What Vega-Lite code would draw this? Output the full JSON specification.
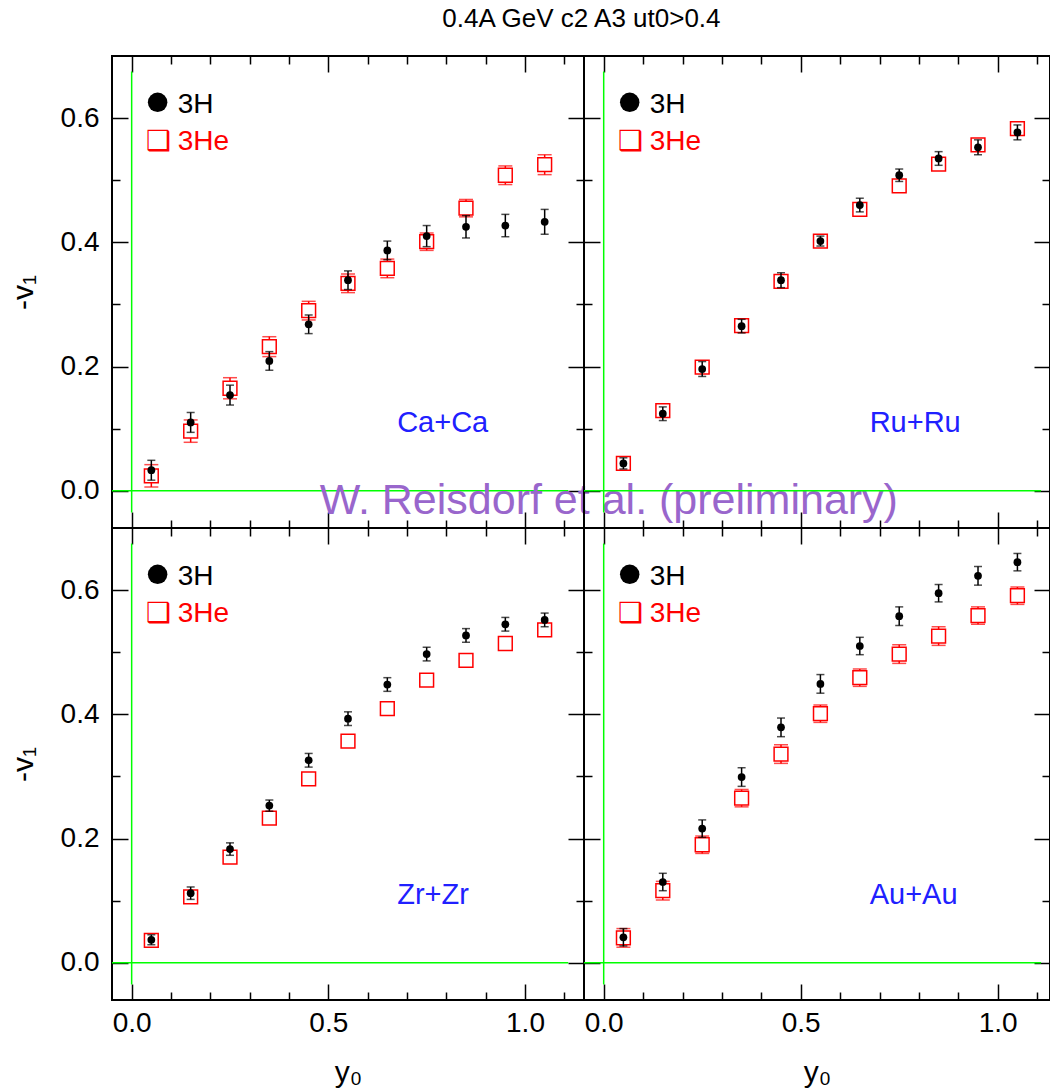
{
  "$schema": "https://vega.github.io/schema/vega-lite/v6.json",
  "padding": {"left": 7, "top": 6, "right": 0, "bottom": 0},
  "bounds": "flush",
  "spacing": 0,
  "columns": 2,
  "title": {"text": "0.4A GeV c2 A3 ut0>0.4", "fontSize": 26, "fontWeight": "normal", "font": "Liberation Sans", "anchor": "middle", "dx": 52, "offset": 22, "color": "black"},
  "data": {"values": [
    {"sys":"Ca+Ca","p":"3H","y0":0.05,"v1":0.033,"e":0.016},
    {"sys":"Ca+Ca","p":"3H","y0":0.15,"v1":0.110,"e":0.016},
    {"sys":"Ca+Ca","p":"3H","y0":0.25,"v1":0.154,"e":0.016},
    {"sys":"Ca+Ca","p":"3H","y0":0.35,"v1":0.209,"e":0.015},
    {"sys":"Ca+Ca","p":"3H","y0":0.45,"v1":0.268,"e":0.015},
    {"sys":"Ca+Ca","p":"3H","y0":0.55,"v1":0.339,"e":0.015},
    {"sys":"Ca+Ca","p":"3H","y0":0.65,"v1":0.387,"e":0.015},
    {"sys":"Ca+Ca","p":"3H","y0":0.75,"v1":0.410,"e":0.017},
    {"sys":"Ca+Ca","p":"3H","y0":0.85,"v1":0.425,"e":0.018},
    {"sys":"Ca+Ca","p":"3H","y0":0.95,"v1":0.427,"e":0.018},
    {"sys":"Ca+Ca","p":"3H","y0":1.05,"v1":0.433,"e":0.020},
    {"sys":"Ca+Ca","p":"3He","y0":0.05,"v1":0.024,"e":0.018},
    {"sys":"Ca+Ca","p":"3He","y0":0.15,"v1":0.096,"e":0.018},
    {"sys":"Ca+Ca","p":"3He","y0":0.25,"v1":0.165,"e":0.017},
    {"sys":"Ca+Ca","p":"3He","y0":0.35,"v1":0.232,"e":0.016},
    {"sys":"Ca+Ca","p":"3He","y0":0.45,"v1":0.290,"e":0.015},
    {"sys":"Ca+Ca","p":"3He","y0":0.55,"v1":0.334,"e":0.015},
    {"sys":"Ca+Ca","p":"3He","y0":0.65,"v1":0.358,"e":0.015},
    {"sys":"Ca+Ca","p":"3He","y0":0.75,"v1":0.401,"e":0.014},
    {"sys":"Ca+Ca","p":"3He","y0":0.85,"v1":0.455,"e":0.014},
    {"sys":"Ca+Ca","p":"3He","y0":0.95,"v1":0.508,"e":0.015},
    {"sys":"Ca+Ca","p":"3He","y0":1.05,"v1":0.525,"e":0.016},
    {"sys":"Ru+Ru","p":"3H","y0":0.05,"v1":0.044,"e":0.009},
    {"sys":"Ru+Ru","p":"3H","y0":0.15,"v1":0.124,"e":0.011},
    {"sys":"Ru+Ru","p":"3H","y0":0.25,"v1":0.196,"e":0.012},
    {"sys":"Ru+Ru","p":"3H","y0":0.35,"v1":0.265,"e":0.011},
    {"sys":"Ru+Ru","p":"3H","y0":0.45,"v1":0.339,"e":0.012},
    {"sys":"Ru+Ru","p":"3H","y0":0.55,"v1":0.402,"e":0.008},
    {"sys":"Ru+Ru","p":"3H","y0":0.65,"v1":0.460,"e":0.011},
    {"sys":"Ru+Ru","p":"3H","y0":0.75,"v1":0.508,"e":0.010},
    {"sys":"Ru+Ru","p":"3H","y0":0.85,"v1":0.535,"e":0.011},
    {"sys":"Ru+Ru","p":"3H","y0":0.95,"v1":0.553,"e":0.012},
    {"sys":"Ru+Ru","p":"3H","y0":1.05,"v1":0.577,"e":0.012},
    {"sys":"Ru+Ru","p":"3He","y0":0.05,"v1":0.044,"e":0.006},
    {"sys":"Ru+Ru","p":"3He","y0":0.15,"v1":0.129,"e":0.008},
    {"sys":"Ru+Ru","p":"3He","y0":0.25,"v1":0.199,"e":0.008},
    {"sys":"Ru+Ru","p":"3He","y0":0.35,"v1":0.266,"e":0.008},
    {"sys":"Ru+Ru","p":"3He","y0":0.45,"v1":0.337,"e":0.008},
    {"sys":"Ru+Ru","p":"3He","y0":0.55,"v1":0.402,"e":0.008},
    {"sys":"Ru+Ru","p":"3He","y0":0.65,"v1":0.453,"e":0.008},
    {"sys":"Ru+Ru","p":"3He","y0":0.75,"v1":0.491,"e":0.009},
    {"sys":"Ru+Ru","p":"3He","y0":0.85,"v1":0.526,"e":0.009},
    {"sys":"Ru+Ru","p":"3He","y0":0.95,"v1":0.557,"e":0.009},
    {"sys":"Ru+Ru","p":"3He","y0":1.05,"v1":0.583,"e":0.009},
    {"sys":"Zr+Zr","p":"3H","y0":0.05,"v1":0.037,"e":0.008},
    {"sys":"Zr+Zr","p":"3H","y0":0.15,"v1":0.112,"e":0.010},
    {"sys":"Zr+Zr","p":"3H","y0":0.25,"v1":0.183,"e":0.010},
    {"sys":"Zr+Zr","p":"3H","y0":0.35,"v1":0.253,"e":0.009},
    {"sys":"Zr+Zr","p":"3H","y0":0.45,"v1":0.326,"e":0.011},
    {"sys":"Zr+Zr","p":"3H","y0":0.55,"v1":0.393,"e":0.011},
    {"sys":"Zr+Zr","p":"3H","y0":0.65,"v1":0.448,"e":0.011},
    {"sys":"Zr+Zr","p":"3H","y0":0.75,"v1":0.497,"e":0.011},
    {"sys":"Zr+Zr","p":"3H","y0":0.85,"v1":0.527,"e":0.011},
    {"sys":"Zr+Zr","p":"3H","y0":0.95,"v1":0.545,"e":0.011},
    {"sys":"Zr+Zr","p":"3H","y0":1.05,"v1":0.552,"e":0.011},
    {"sys":"Zr+Zr","p":"3He","y0":0.05,"v1":0.036,"e":0.004},
    {"sys":"Zr+Zr","p":"3He","y0":0.15,"v1":0.106,"e":0.004},
    {"sys":"Zr+Zr","p":"3He","y0":0.25,"v1":0.170,"e":0.004},
    {"sys":"Zr+Zr","p":"3He","y0":0.35,"v1":0.233,"e":0.004},
    {"sys":"Zr+Zr","p":"3He","y0":0.45,"v1":0.296,"e":0.004},
    {"sys":"Zr+Zr","p":"3He","y0":0.55,"v1":0.357,"e":0.004},
    {"sys":"Zr+Zr","p":"3He","y0":0.65,"v1":0.409,"e":0.004},
    {"sys":"Zr+Zr","p":"3He","y0":0.75,"v1":0.455,"e":0.004},
    {"sys":"Zr+Zr","p":"3He","y0":0.85,"v1":0.487,"e":0.004},
    {"sys":"Zr+Zr","p":"3He","y0":0.95,"v1":0.514,"e":0.004},
    {"sys":"Zr+Zr","p":"3He","y0":1.05,"v1":0.536,"e":0.004},
    {"sys":"Au+Au","p":"3H","y0":0.05,"v1":0.041,"e":0.014},
    {"sys":"Au+Au","p":"3H","y0":0.15,"v1":0.130,"e":0.014},
    {"sys":"Au+Au","p":"3H","y0":0.25,"v1":0.216,"e":0.014},
    {"sys":"Au+Au","p":"3H","y0":0.35,"v1":0.299,"e":0.015},
    {"sys":"Au+Au","p":"3H","y0":0.45,"v1":0.379,"e":0.015},
    {"sys":"Au+Au","p":"3H","y0":0.55,"v1":0.449,"e":0.015},
    {"sys":"Au+Au","p":"3H","y0":0.65,"v1":0.510,"e":0.014},
    {"sys":"Au+Au","p":"3H","y0":0.75,"v1":0.558,"e":0.015},
    {"sys":"Au+Au","p":"3H","y0":0.85,"v1":0.595,"e":0.014},
    {"sys":"Au+Au","p":"3H","y0":0.95,"v1":0.623,"e":0.015},
    {"sys":"Au+Au","p":"3H","y0":1.05,"v1":0.645,"e":0.014},
    {"sys":"Au+Au","p":"3He","y0":0.05,"v1":0.040,"e":0.015},
    {"sys":"Au+Au","p":"3He","y0":0.15,"v1":0.116,"e":0.015},
    {"sys":"Au+Au","p":"3He","y0":0.25,"v1":0.190,"e":0.014},
    {"sys":"Au+Au","p":"3He","y0":0.35,"v1":0.265,"e":0.014},
    {"sys":"Au+Au","p":"3He","y0":0.45,"v1":0.336,"e":0.015},
    {"sys":"Au+Au","p":"3He","y0":0.55,"v1":0.401,"e":0.014},
    {"sys":"Au+Au","p":"3He","y0":0.65,"v1":0.459,"e":0.014},
    {"sys":"Au+Au","p":"3He","y0":0.75,"v1":0.497,"e":0.015},
    {"sys":"Au+Au","p":"3He","y0":0.85,"v1":0.526,"e":0.015},
    {"sys":"Au+Au","p":"3He","y0":0.95,"v1":0.559,"e":0.014},
    {"sys":"Au+Au","p":"3He","y0":1.05,"v1":0.591,"e":0.014}
  ]},
  "concat": [
    {
      "width": 472, "height": 472,
      "layer": [
        {"data": {"values": [{}]}, "mark": {"type": "rule", "color": "#00ff00", "strokeWidth": 1.5},
         "encoding": {
           "x": {"datum": 0, "type": "quantitative", "scale": {"domain": [-0.05, 1.15], "nice": false, "zero": false},
                 "axis": {"orient": "bottom", "values": [0,0.1,0.2,0.3,0.4,0.5,0.6,0.7,0.8,0.9,1,1.1], "tickSize": {"condition": {"test": "abs(datum.value*2-round(datum.value*2))<0.001", "value": -16}, "value": -8}, "labels": false, "title": null}},
           "y": {"datum": -0.035, "type": "quantitative", "scale": {"domain": [-0.06, 0.7], "nice": false, "zero": false},
                 "axis": {"orient": "left", "values": [0,0.1,0.2,0.3,0.4,0.5,0.6], "tickSize": {"condition": {"test": "abs(datum.value*5-round(datum.value*5))<0.001", "value": -16}, "value": -8}, "labelExpr": "abs(datum.value*5-round(datum.value*5))<0.001 ? format(datum.value,'.1f') : ''", "labelPadding": 29, "title": "-v₁", "titlePadding": 22}},
           "y2": {"datum": 0.675}}},
        {"data": {"values": [{}]}, "mark": {"type": "rule", "color": "#00ff00", "strokeWidth": 1.5},
         "encoding": {
           "x": {"datum": -0.05, "type": "quantitative", "axis": {"orient": "top", "values": [0,0.1,0.2,0.3,0.4,0.5,0.6,0.7,0.8,0.9,1,1.1], "tickSize": {"condition": {"test": "abs(datum.value*2-round(datum.value*2))<0.001", "value": -16}, "value": -8}, "labels": false, "title": null}},
           "x2": {"datum": 1.11},
           "y": {"datum": 0, "type": "quantitative", "axis": {"orient": "right", "values": [0,0.1,0.2,0.3,0.4,0.5,0.6], "tickSize": {"condition": {"test": "abs(datum.value*5-round(datum.value*5))<0.001", "value": -16}, "value": -8}, "labels": false, "title": null}}}},
        {"transform": [{"filter": "datum.sys=='Ca+Ca' && datum.p=='3He'"}],
         "mark": {"type": "errorbar", "color": "red", "thickness": 1.5, "ticks": {"size": 14, "color": "red", "thickness": 1.5}},
         "encoding": {"x": {"field": "y0", "type": "quantitative", "axis": null}, "y": {"field": "v1", "type": "quantitative", "axis": null}, "yError": {"field": "e"}}},
        {"transform": [{"filter": "datum.sys=='Ca+Ca' && datum.p=='3He'"}],
         "mark": {"type": "point", "shape": "square", "filled": true, "fill": "white", "stroke": "red", "strokeWidth": 1.5, "size": 190, "opacity": 1},
         "encoding": {"x": {"field": "y0", "type": "quantitative", "axis": null}, "y": {"field": "v1", "type": "quantitative", "axis": null}}},
        {"transform": [{"filter": "datum.sys=='Ca+Ca' && datum.p=='3H'"}],
         "mark": {"type": "errorbar", "color": "black", "thickness": 1.5, "ticks": {"size": 8, "color": "black", "thickness": 1.5}},
         "encoding": {"x": {"field": "y0", "type": "quantitative", "axis": null}, "y": {"field": "v1", "type": "quantitative", "axis": null}, "yError": {"field": "e"}}},
        {"transform": [{"filter": "datum.sys=='Ca+Ca' && datum.p=='3H'"}],
         "mark": {"type": "point", "shape": "circle", "filled": true, "color": "black", "size": 60, "opacity": 1},
         "encoding": {"x": {"field": "y0", "type": "quantitative", "axis": null}, "y": {"field": "v1", "type": "quantitative", "axis": null}}},
        {"data": {"values": [{}]}, "mark": {"type": "point", "shape": "circle", "filled": true, "color": "black", "size": 380, "opacity": 1},
         "encoding": {"x": {"datum": 0.066, "type": "quantitative", "axis": null}, "y": {"datum": 0.6255, "type": "quantitative", "axis": null}}},
        {"data": {"values": [{}]}, "mark": {"type": "text", "text": "3H", "align": "left", "baseline": "alphabetic", "fontSize": 28, "font": "Liberation Sans", "color": "black"},
         "encoding": {"x": {"datum": 0.117, "type": "quantitative", "axis": null}, "y": {"datum": 0.609, "type": "quantitative", "axis": null}}},
        {"data": {"values": [{}]}, "mark": {"type": "text", "text": "❑", "align": "left", "baseline": "alphabetic", "fontSize": 28, "font": "DejaVu Sans", "color": "red"},
         "encoding": {"x": {"datum": 0.0355, "type": "quantitative", "axis": null}, "y": {"datum": 0.548, "type": "quantitative", "axis": null}}},
        {"data": {"values": [{}]}, "mark": {"type": "text", "text": "3He", "align": "left", "baseline": "alphabetic", "fontSize": 28, "font": "Liberation Sans", "color": "red"},
         "encoding": {"x": {"datum": 0.117, "type": "quantitative", "axis": null}, "y": {"datum": 0.548, "type": "quantitative", "axis": null}}},
        {"data": {"values": [{}]}, "mark": {"type": "text", "text": "Ca+Ca", "align": "left", "baseline": "alphabetic", "fontSize": 29, "font": "Liberation Sans", "color": "#2020ff"},
         "encoding": {"x": {"datum": 0.675, "type": "quantitative", "axis": null}, "y": {"datum": 0.094, "type": "quantitative", "axis": null}}},
        {"data": {"values": [{}]}, "mark": {"type": "text", "text": "W. Reisdorf et al. (preliminary)", "align": "left", "baseline": "alphabetic", "fontSize": 43, "font": "Liberation Sans", "color": "#9966cc"},
         "encoding": {"x": {"datum": 0.478, "type": "quantitative", "axis": null}, "y": {"datum": -0.0376, "type": "quantitative", "axis": null}}}
      ],
      "resolve": {"axis": {"x": "independent", "y": "independent"}}
    },
    {
      "width": 466, "height": 472,
      "layer": [
        {"data": {"values": [{}]}, "mark": {"type": "rule", "color": "#00ff00", "strokeWidth": 1.5},
         "encoding": {
           "x": {"datum": 0, "type": "quantitative", "scale": {"domain": [-0.05, 1.1327], "nice": false, "zero": false},
                 "axis": {"orient": "bottom", "values": [0,0.1,0.2,0.3,0.4,0.5,0.6,0.7,0.8,0.9,1,1.1], "tickSize": {"condition": {"test": "abs(datum.value*2-round(datum.value*2))<0.001", "value": -16}, "value": -8}, "labels": false, "title": null}},
           "y": {"datum": -0.035, "type": "quantitative", "scale": {"domain": [-0.06, 0.7], "nice": false, "zero": false},
                 "axis": {"orient": "left", "values": [0,0.1,0.2,0.3,0.4,0.5,0.6], "tickSize": {"condition": {"test": "abs(datum.value*5-round(datum.value*5))<0.001", "value": -16}, "value": -8}, "labels": false, "title": null}},
           "y2": {"datum": 0.675}}},
        {"data": {"values": [{}]}, "mark": {"type": "rule", "color": "#00ff00", "strokeWidth": 1.5},
         "encoding": {
           "x": {"datum": -0.05, "type": "quantitative", "axis": {"orient": "top", "values": [0,0.1,0.2,0.3,0.4,0.5,0.6,0.7,0.8,0.9,1,1.1], "tickSize": {"condition": {"test": "abs(datum.value*2-round(datum.value*2))<0.001", "value": -16}, "value": -8}, "labels": false, "title": null}},
           "x2": {"datum": 1.11},
           "y": {"datum": 0, "type": "quantitative", "axis": {"orient": "right", "values": [0,0.1,0.2,0.3,0.4,0.5,0.6], "tickSize": {"condition": {"test": "abs(datum.value*5-round(datum.value*5))<0.001", "value": -16}, "value": -8}, "labels": false, "title": null}}}},
        {"transform": [{"filter": "datum.sys=='Ru+Ru' && datum.p=='3He'"}],
         "mark": {"type": "errorbar", "color": "red", "thickness": 1.5, "ticks": {"size": 14, "color": "red", "thickness": 1.5}},
         "encoding": {"x": {"field": "y0", "type": "quantitative", "axis": null}, "y": {"field": "v1", "type": "quantitative", "axis": null}, "yError": {"field": "e"}}},
        {"transform": [{"filter": "datum.sys=='Ru+Ru' && datum.p=='3He'"}],
         "mark": {"type": "point", "shape": "square", "filled": true, "fill": "white", "stroke": "red", "strokeWidth": 1.5, "size": 190, "opacity": 1},
         "encoding": {"x": {"field": "y0", "type": "quantitative", "axis": null}, "y": {"field": "v1", "type": "quantitative", "axis": null}}},
        {"transform": [{"filter": "datum.sys=='Ru+Ru' && datum.p=='3H'"}],
         "mark": {"type": "errorbar", "color": "black", "thickness": 1.5, "ticks": {"size": 8, "color": "black", "thickness": 1.5}},
         "encoding": {"x": {"field": "y0", "type": "quantitative", "axis": null}, "y": {"field": "v1", "type": "quantitative", "axis": null}, "yError": {"field": "e"}}},
        {"transform": [{"filter": "datum.sys=='Ru+Ru' && datum.p=='3H'"}],
         "mark": {"type": "point", "shape": "circle", "filled": true, "color": "black", "size": 60, "opacity": 1},
         "encoding": {"x": {"field": "y0", "type": "quantitative", "axis": null}, "y": {"field": "v1", "type": "quantitative", "axis": null}}},
        {"data": {"values": [{}]}, "mark": {"type": "point", "shape": "circle", "filled": true, "color": "black", "size": 380, "opacity": 1},
         "encoding": {"x": {"datum": 0.066, "type": "quantitative", "axis": null}, "y": {"datum": 0.6255, "type": "quantitative", "axis": null}}},
        {"data": {"values": [{}]}, "mark": {"type": "text", "text": "3H", "align": "left", "baseline": "alphabetic", "fontSize": 28, "font": "Liberation Sans", "color": "black"},
         "encoding": {"x": {"datum": 0.117, "type": "quantitative", "axis": null}, "y": {"datum": 0.609, "type": "quantitative", "axis": null}}},
        {"data": {"values": [{}]}, "mark": {"type": "text", "text": "❑", "align": "left", "baseline": "alphabetic", "fontSize": 28, "font": "DejaVu Sans", "color": "red"},
         "encoding": {"x": {"datum": 0.0355, "type": "quantitative", "axis": null}, "y": {"datum": 0.548, "type": "quantitative", "axis": null}}},
        {"data": {"values": [{}]}, "mark": {"type": "text", "text": "3He", "align": "left", "baseline": "alphabetic", "fontSize": 28, "font": "Liberation Sans", "color": "red"},
         "encoding": {"x": {"datum": 0.117, "type": "quantitative", "axis": null}, "y": {"datum": 0.548, "type": "quantitative", "axis": null}}},
        {"data": {"values": [{}]}, "mark": {"type": "text", "text": "Ru+Ru", "align": "left", "baseline": "alphabetic", "fontSize": 29, "font": "Liberation Sans", "color": "#2020ff"},
         "encoding": {"x": {"datum": 0.675, "type": "quantitative", "axis": null}, "y": {"datum": 0.094, "type": "quantitative", "axis": null}}}
      ],
      "resolve": {"axis": {"x": "independent", "y": "independent"}}
    },
    {
      "width": 472, "height": 472,
      "layer": [
        {"data": {"values": [{}]}, "mark": {"type": "rule", "color": "#00ff00", "strokeWidth": 1.5},
         "encoding": {
           "x": {"datum": 0, "type": "quantitative", "scale": {"domain": [-0.05, 1.15], "nice": false, "zero": false},
                 "axis": {"orient": "bottom", "values": [0,0.1,0.2,0.3,0.4,0.5,0.6,0.7,0.8,0.9,1,1.1], "tickSize": {"condition": {"test": "abs(datum.value*2-round(datum.value*2))<0.001", "value": -16}, "value": -8}, "labelExpr": "abs(datum.value*2-round(datum.value*2))<0.001 ? format(datum.value,'.1f') : ''", "labelPadding": 25, "title": "y₀", "titlePadding": 12}},
           "y": {"datum": -0.035, "type": "quantitative", "scale": {"domain": [-0.06, 0.7], "nice": false, "zero": false},
                 "axis": {"orient": "left", "values": [0,0.1,0.2,0.3,0.4,0.5,0.6], "tickSize": {"condition": {"test": "abs(datum.value*5-round(datum.value*5))<0.001", "value": -16}, "value": -8}, "labelExpr": "abs(datum.value*5-round(datum.value*5))<0.001 ? format(datum.value,'.1f') : ''", "labelPadding": 29, "title": "-v₁", "titlePadding": 22}},
           "y2": {"datum": 0.675}}},
        {"data": {"values": [{}]}, "mark": {"type": "rule", "color": "#00ff00", "strokeWidth": 1.5},
         "encoding": {
           "x": {"datum": -0.05, "type": "quantitative", "axis": {"orient": "top", "values": [0,0.1,0.2,0.3,0.4,0.5,0.6,0.7,0.8,0.9,1,1.1], "tickSize": {"condition": {"test": "abs(datum.value*2-round(datum.value*2))<0.001", "value": -16}, "value": -8}, "labels": false, "title": null}},
           "x2": {"datum": 1.11},
           "y": {"datum": 0, "type": "quantitative", "axis": {"orient": "right", "values": [0,0.1,0.2,0.3,0.4,0.5,0.6], "tickSize": {"condition": {"test": "abs(datum.value*5-round(datum.value*5))<0.001", "value": -16}, "value": -8}, "labels": false, "title": null}}}},
        {"transform": [{"filter": "datum.sys=='Zr+Zr' && datum.p=='3He'"}],
         "mark": {"type": "errorbar", "color": "red", "thickness": 1.5, "ticks": {"size": 14, "color": "red", "thickness": 1.5}},
         "encoding": {"x": {"field": "y0", "type": "quantitative", "axis": null}, "y": {"field": "v1", "type": "quantitative", "axis": null}, "yError": {"field": "e"}}},
        {"transform": [{"filter": "datum.sys=='Zr+Zr' && datum.p=='3He'"}],
         "mark": {"type": "point", "shape": "square", "filled": true, "fill": "white", "stroke": "red", "strokeWidth": 1.5, "size": 190, "opacity": 1},
         "encoding": {"x": {"field": "y0", "type": "quantitative", "axis": null}, "y": {"field": "v1", "type": "quantitative", "axis": null}}},
        {"transform": [{"filter": "datum.sys=='Zr+Zr' && datum.p=='3H'"}],
         "mark": {"type": "errorbar", "color": "black", "thickness": 1.5, "ticks": {"size": 8, "color": "black", "thickness": 1.5}},
         "encoding": {"x": {"field": "y0", "type": "quantitative", "axis": null}, "y": {"field": "v1", "type": "quantitative", "axis": null}, "yError": {"field": "e"}}},
        {"transform": [{"filter": "datum.sys=='Zr+Zr' && datum.p=='3H'"}],
         "mark": {"type": "point", "shape": "circle", "filled": true, "color": "black", "size": 60, "opacity": 1},
         "encoding": {"x": {"field": "y0", "type": "quantitative", "axis": null}, "y": {"field": "v1", "type": "quantitative", "axis": null}}},
        {"data": {"values": [{}]}, "mark": {"type": "point", "shape": "circle", "filled": true, "color": "black", "size": 380, "opacity": 1},
         "encoding": {"x": {"datum": 0.066, "type": "quantitative", "axis": null}, "y": {"datum": 0.6255, "type": "quantitative", "axis": null}}},
        {"data": {"values": [{}]}, "mark": {"type": "text", "text": "3H", "align": "left", "baseline": "alphabetic", "fontSize": 28, "font": "Liberation Sans", "color": "black"},
         "encoding": {"x": {"datum": 0.117, "type": "quantitative", "axis": null}, "y": {"datum": 0.609, "type": "quantitative", "axis": null}}},
        {"data": {"values": [{}]}, "mark": {"type": "text", "text": "❑", "align": "left", "baseline": "alphabetic", "fontSize": 28, "font": "DejaVu Sans", "color": "red"},
         "encoding": {"x": {"datum": 0.0355, "type": "quantitative", "axis": null}, "y": {"datum": 0.548, "type": "quantitative", "axis": null}}},
        {"data": {"values": [{}]}, "mark": {"type": "text", "text": "3He", "align": "left", "baseline": "alphabetic", "fontSize": 28, "font": "Liberation Sans", "color": "red"},
         "encoding": {"x": {"datum": 0.117, "type": "quantitative", "axis": null}, "y": {"datum": 0.548, "type": "quantitative", "axis": null}}},
        {"data": {"values": [{}]}, "mark": {"type": "text", "text": "Zr+Zr", "align": "left", "baseline": "alphabetic", "fontSize": 29, "font": "Liberation Sans", "color": "#2020ff"},
         "encoding": {"x": {"datum": 0.675, "type": "quantitative", "axis": null}, "y": {"datum": 0.094, "type": "quantitative", "axis": null}}}
      ],
      "resolve": {"axis": {"x": "independent", "y": "independent"}}
    },
    {
      "width": 466, "height": 472,
      "layer": [
        {"data": {"values": [{}]}, "mark": {"type": "rule", "color": "#00ff00", "strokeWidth": 1.5},
         "encoding": {
           "x": {"datum": 0, "type": "quantitative", "scale": {"domain": [-0.05, 1.1327], "nice": false, "zero": false},
                 "axis": {"orient": "bottom", "values": [0,0.1,0.2,0.3,0.4,0.5,0.6,0.7,0.8,0.9,1,1.1], "tickSize": {"condition": {"test": "abs(datum.value*2-round(datum.value*2))<0.001", "value": -16}, "value": -8}, "labelExpr": "abs(datum.value*2-round(datum.value*2))<0.001 ? format(datum.value,'.1f') : ''", "labelPadding": 25, "title": "y₀", "titlePadding": 12}},
           "y": {"datum": -0.035, "type": "quantitative", "scale": {"domain": [-0.06, 0.7], "nice": false, "zero": false},
                 "axis": {"orient": "left", "values": [0,0.1,0.2,0.3,0.4,0.5,0.6], "tickSize": {"condition": {"test": "abs(datum.value*5-round(datum.value*5))<0.001", "value": -16}, "value": -8}, "labels": false, "title": null}},
           "y2": {"datum": 0.675}}},
        {"data": {"values": [{}]}, "mark": {"type": "rule", "color": "#00ff00", "strokeWidth": 1.5},
         "encoding": {
           "x": {"datum": -0.05, "type": "quantitative", "axis": {"orient": "top", "values": [0,0.1,0.2,0.3,0.4,0.5,0.6,0.7,0.8,0.9,1,1.1], "tickSize": {"condition": {"test": "abs(datum.value*2-round(datum.value*2))<0.001", "value": -16}, "value": -8}, "labels": false, "title": null}},
           "x2": {"datum": 1.11},
           "y": {"datum": 0, "type": "quantitative", "axis": {"orient": "right", "values": [0,0.1,0.2,0.3,0.4,0.5,0.6], "tickSize": {"condition": {"test": "abs(datum.value*5-round(datum.value*5))<0.001", "value": -16}, "value": -8}, "labels": false, "title": null}}}},
        {"transform": [{"filter": "datum.sys=='Au+Au' && datum.p=='3He'"}],
         "mark": {"type": "errorbar", "color": "red", "thickness": 1.5, "ticks": {"size": 14, "color": "red", "thickness": 1.5}},
         "encoding": {"x": {"field": "y0", "type": "quantitative", "axis": null}, "y": {"field": "v1", "type": "quantitative", "axis": null}, "yError": {"field": "e"}}},
        {"transform": [{"filter": "datum.sys=='Au+Au' && datum.p=='3He'"}],
         "mark": {"type": "point", "shape": "square", "filled": true, "fill": "white", "stroke": "red", "strokeWidth": 1.5, "size": 190, "opacity": 1},
         "encoding": {"x": {"field": "y0", "type": "quantitative", "axis": null}, "y": {"field": "v1", "type": "quantitative", "axis": null}}},
        {"transform": [{"filter": "datum.sys=='Au+Au' && datum.p=='3H'"}],
         "mark": {"type": "errorbar", "color": "black", "thickness": 1.5, "ticks": {"size": 8, "color": "black", "thickness": 1.5}},
         "encoding": {"x": {"field": "y0", "type": "quantitative", "axis": null}, "y": {"field": "v1", "type": "quantitative", "axis": null}, "yError": {"field": "e"}}},
        {"transform": [{"filter": "datum.sys=='Au+Au' && datum.p=='3H'"}],
         "mark": {"type": "point", "shape": "circle", "filled": true, "color": "black", "size": 60, "opacity": 1},
         "encoding": {"x": {"field": "y0", "type": "quantitative", "axis": null}, "y": {"field": "v1", "type": "quantitative", "axis": null}}},
        {"data": {"values": [{}]}, "mark": {"type": "point", "shape": "circle", "filled": true, "color": "black", "size": 380, "opacity": 1},
         "encoding": {"x": {"datum": 0.066, "type": "quantitative", "axis": null}, "y": {"datum": 0.6255, "type": "quantitative", "axis": null}}},
        {"data": {"values": [{}]}, "mark": {"type": "text", "text": "3H", "align": "left", "baseline": "alphabetic", "fontSize": 28, "font": "Liberation Sans", "color": "black"},
         "encoding": {"x": {"datum": 0.117, "type": "quantitative", "axis": null}, "y": {"datum": 0.609, "type": "quantitative", "axis": null}}},
        {"data": {"values": [{}]}, "mark": {"type": "text", "text": "❑", "align": "left", "baseline": "alphabetic", "fontSize": 28, "font": "DejaVu Sans", "color": "red"},
         "encoding": {"x": {"datum": 0.0355, "type": "quantitative", "axis": null}, "y": {"datum": 0.548, "type": "quantitative", "axis": null}}},
        {"data": {"values": [{}]}, "mark": {"type": "text", "text": "3He", "align": "left", "baseline": "alphabetic", "fontSize": 28, "font": "Liberation Sans", "color": "red"},
         "encoding": {"x": {"datum": 0.117, "type": "quantitative", "axis": null}, "y": {"datum": 0.548, "type": "quantitative", "axis": null}}},
        {"data": {"values": [{}]}, "mark": {"type": "text", "text": "Au+Au", "align": "left", "baseline": "alphabetic", "fontSize": 29, "font": "Liberation Sans", "color": "#2020ff"},
         "encoding": {"x": {"datum": 0.675, "type": "quantitative", "axis": null}, "y": {"datum": 0.094, "type": "quantitative", "axis": null}}}
      ],
      "resolve": {"axis": {"x": "independent", "y": "independent"}}
    }
  ],
  "config": {
    "view": {"stroke": "black", "strokeWidth": 2},
    "axis": {"domain": false, "grid": false, "tickColor": "black", "tickWidth": 1.5, "labelFont": "Liberation Sans", "labelFontSize": 28, "labelColor": "black", "titleFont": "Liberation Sans", "titleFontSize": 30, "titleFontWeight": "normal", "titleColor": "black", "labelFlush": false, "labelOverlap": false, "labelBound": false},
    "text": {"font": "Liberation Sans"}
  }
}
